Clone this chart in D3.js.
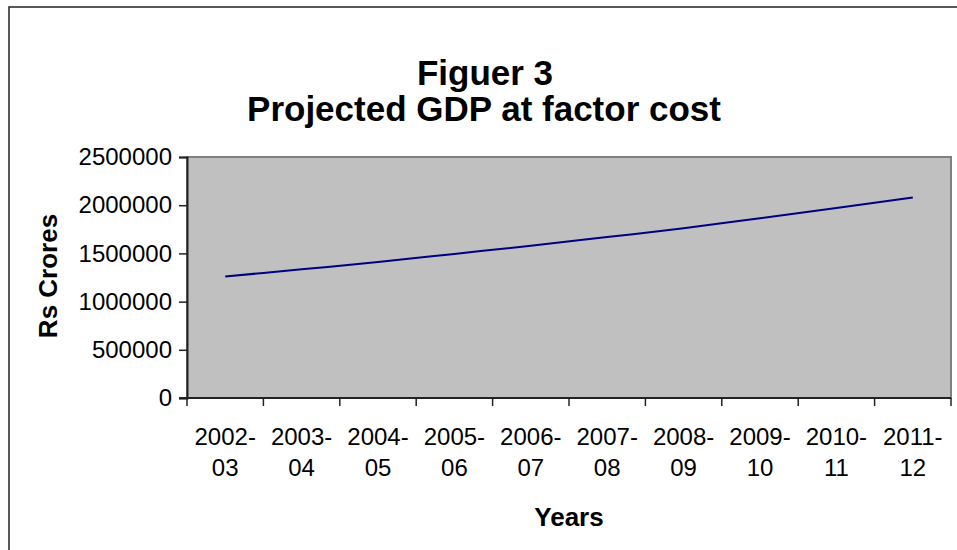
<!DOCTYPE html>
<html>
<head>
<meta charset="utf-8">
<script src="https://cdn.jsdelivr.net/npm/d3@7"></script>
<style>
  html, body { margin: 0; padding: 0; background: #fff; }
  svg { display: block; font-family: "Liberation Sans", Arial, sans-serif; }
</style>
</head>
<body>
<svg id="chart" width="957" height="550"></svg>
<script>
// Projected GDP at factor cost, Rs crores
const years = ["2002-03", "2003-04", "2004-05", "2005-06", "2006-07",
               "2007-08", "2008-09", "2009-10", "2010-11", "2011-12"];
const gdp = [1260000, 1335000, 1410000, 1495000, 1580000,
             1670000, 1760000, 1865000, 1970000, 2080000];
const yTicks = [0, 500000, 1000000, 1500000, 2000000, 2500000];

const svg = d3.select("#chart");

// outer chart frame
svg.append("rect")
  .attr("x", 9).attr("y", 7).attr("width", 960).attr("height", 560)
  .attr("fill", "#fff").attr("stroke", "#222").attr("stroke-width", 1.5);

const plot = { left: 187, top: 157, right: 951, bottom: 398 };

const x = d3.scaleBand().domain(years).range([plot.left, plot.right]);
const y = d3.scaleLinear().domain([0, 2500000]).range([plot.bottom, plot.top]);

// plot area
svg.append("rect")
  .attr("x", plot.left).attr("y", plot.top)
  .attr("width", plot.right - plot.left).attr("height", plot.bottom - plot.top)
  .attr("fill", "#c0c0c0").attr("stroke", "#808080").attr("stroke-width", 2);

// y axis
const yAxis = svg.append("g")
  .attr("transform", `translate(${plot.left},0)`)
  .call(d3.axisLeft(y).tickValues(yTicks).tickSize(8).tickPadding(7).tickFormat(d3.format("d")));
yAxis.select(".domain").attr("stroke", "#222").attr("stroke-width", 2);
yAxis.selectAll(".tick line").attr("stroke", "#222").attr("stroke-width", 1.5);
yAxis.selectAll(".tick text")
  .attr("font-size", 24).attr("fill", "#000").attr("font-family", "Liberation Sans, Arial, sans-serif");

// x axis: ticks at category boundaries
const bounds = years.map(d => x(d)).concat([plot.right]);
const xAxis = svg.append("g");
xAxis.append("line")
  .attr("x1", plot.left - 8).attr("x2", plot.right)
  .attr("y1", plot.bottom).attr("y2", plot.bottom)
  .attr("stroke", "#222").attr("stroke-width", 2);
xAxis.selectAll("line.tk").data(bounds).join("line")
  .attr("class", "tk")
  .attr("x1", d => d).attr("x2", d => d)
  .attr("y1", plot.bottom).attr("y2", plot.bottom + 8)
  .attr("stroke", "#222").attr("stroke-width", 1.5);

const lbl = xAxis.selectAll("text.cat").data(years).join("text")
  .attr("class", "cat")
  .attr("text-anchor", "middle")
  .attr("font-size", 24)
  .attr("fill", "#000");
lbl.append("tspan")
  .attr("x", d => x(d) + x.bandwidth() / 2).attr("y", 445)
  .text(d => d.split("-")[0] + "-");
lbl.append("tspan")
  .attr("x", d => x(d) + x.bandwidth() / 2).attr("y", 476)
  .text(d => d.split("-")[1]);

// series line
const line = d3.line()
  .x((d, i) => x(years[i]) + x.bandwidth() / 2)
  .y(d => y(d))
  .curve(d3.curveMonotoneX);
svg.append("path")
  .datum(gdp)
  .attr("d", line)
  .attr("fill", "none")
  .attr("stroke", "#000080")
  .attr("stroke-width", 2);

// titles
svg.append("text")
  .attr("x", 485).attr("y", 85)
  .attr("text-anchor", "middle")
  .attr("font-size", 35).attr("font-weight", "bold")
  .text("Figuer 3");
svg.append("text")
  .attr("x", 484).attr("y", 121)
  .attr("text-anchor", "middle")
  .attr("font-size", 35).attr("font-weight", "bold")
  .text("Projected GDP at factor cost");

svg.append("text")
  .attr("x", 569).attr("y", 526)
  .attr("text-anchor", "middle")
  .attr("font-size", 26).attr("font-weight", "bold")
  .text("Years");

svg.append("text")
  .attr("transform", "translate(57,276) rotate(-90)")
  .attr("text-anchor", "middle")
  .attr("font-size", 26).attr("font-weight", "bold")
  .text("Rs Crores");
</script>
</body>
</html>
